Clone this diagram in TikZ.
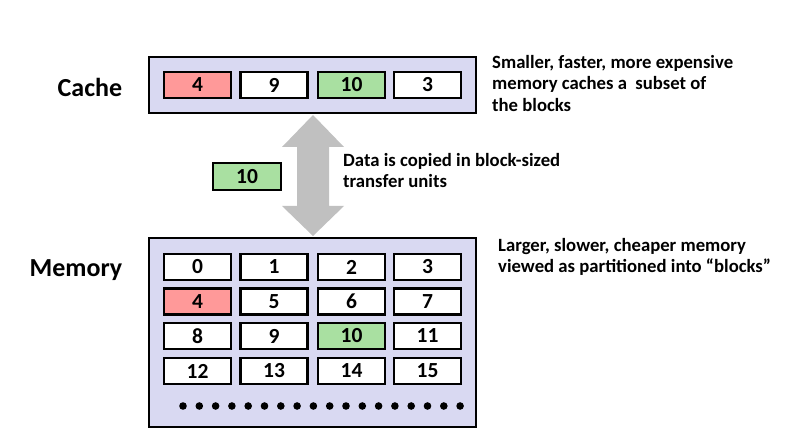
\documentclass[tikz,border=0pt]{standalone}
\usepackage{fontspec}
\setmainfont{Carlito}
\usetikzlibrary{calc}
\definecolor{lav}{HTML}{D9D9F2}
\definecolor{redc}{HTML}{FF9999}
\definecolor{grnc}{HTML}{A9E0A1}
\definecolor{arrg}{HTML}{C0C0C0}
\tikzset{
  outer/.style={draw=black, line width=2pt, fill=lav, inner sep=0pt},
  cell/.style={draw=black, line width=2.4pt, fill=white, minimum width=67pt, minimum height=26pt, inner sep=0pt, font=\bfseries\fontsize{21.5}{21.5}\selectfont},
  redcell/.style={cell, fill=redc},
  grncell/.style={cell, fill=grnc},
  big/.style={font=\bfseries\fontsize{26}{26}\selectfont},
  note/.style={align=left, anchor=north west, inner sep=0pt, font=\bfseries\fontsize{18.7}{21.5}\selectfont}
}
\begin{document}
\begin{tikzpicture}[x=1pt,y=-1pt]
\useasboundingbox (0,0) rectangle (792,435);
% outer boxes
\node[outer, minimum width=327pt, minimum height=56pt] (cache) at (312.5,85) {};
\node[outer, minimum width=327pt, minimum height=189pt] (mem) at (312.5,332.5) {};
% labels
\node[big] (lc) at (90,87) {Cache};
\node[big] (lm) at (76,270) {Memory};
% cache cells
\node[redcell] (c1) at (197.5,85) {4};
\node[cell] (c2) at (274,85) {9};
\node[grncell] (c3) at (351.5,85) {10};
\node[cell] (c4) at (427.5,85) {3};
% memory cells
\foreach \r/\y in {0/267,1/301.5,2/336,3/371}{
  \foreach \c/\x in {0/197.5,1/274,2/351.5,3/427.5}{
    \pgfmathtruncatemacro{\n}{4*\r+\c}
    \ifnum\n=4
      \node[redcell] (m\n) at (\x,\y) {\n};
    \else\ifnum\n=10
      \node[grncell] (m\n) at (\x,\y) {\n};
    \else
      \node[cell] (m\n) at (\x,\y) {\n};
    \fi\fi
  }
}
% dots
\foreach \i in {0,...,17}{
  \fill (183+16.3*\i,406) circle (3.8pt);
}
% transfer arrow
\coordinate (top) at ($(cache.south)+(0.5,1)$);
\coordinate (bot) at ($(mem.north)+(0.5,-1)$);
\fill[arrg] (top) -- ($(top)+(31,32)$) -- ($(top)+(16,32)$) -- ($(bot)+(16,-30)$) -- ($(bot)+(31,-30)$) -- (bot)
  -- ($(bot)+(-31,-30)$) -- ($(bot)+(-16,-30)$) -- ($(top)+(-16,32)$) -- ($(top)+(-31,32)$) -- cycle;
% moving block
\node[grncell, minimum width=68pt, minimum height=27pt] (blk) at (247,176.5) {10};
% notes
\node[note] (n1) at (492,55) {Smaller, faster, more expensive\\memory caches a\ \ subset of\\the blocks};
\node[note] (n2) at (343,153) {Data is copied in block-sized\\transfer units};
\node[note] (n3) at (498,238) {Larger, slower, cheaper memory\\viewed as partitioned into “blocks”};
\end{tikzpicture}
\end{document}
